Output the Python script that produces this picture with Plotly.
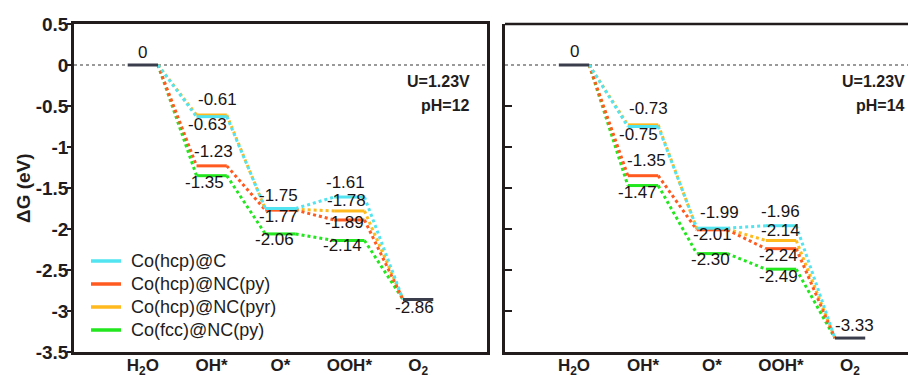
import plotly.graph_objects as go

# ---------------- data ----------------
stages = ["H<sub>2</sub>O", "OH*", "O*", "OOH*", "O<sub>2</sub>"]
series_names = ["Co(hcp)@C", "Co(hcp)@NC(py)", "Co(hcp)@NC(pyr)", "Co(fcc)@NC(py)"]
series_colors = ["#52E4F0", "#FF5A1F", "#FFBA1E", "#22E61E"]

# pH = 12
g_hcpC_12 = [0, -0.63, -1.75, -1.61, -2.86]
g_hcpNCpy_12 = [0, -1.23, -1.77, -1.89, -2.86]
g_hcpNCpyr_12 = [0, -0.61, -1.76, -1.78, -2.86]
g_fccNCpy_12 = [0, -1.35, -2.06, -2.14, -2.86]

# pH = 14
g_hcpC_14 = [0, -0.75, -1.99, -1.96, -3.33]
g_hcpNCpy_14 = [0, -1.35, -2.01, -2.24, -3.33]
g_hcpNCpyr_14 = [0, -0.73, -2.00, -2.14, -3.33]
g_fccNCpy_14 = [0, -1.47, -2.30, -2.49, -3.33]

# value labels (stage index, value)
labels_12 = [(0, 0.0), (1, -0.61), (1, -0.63), (1, -1.23), (1, -1.35),
             (2, -1.75), (2, -1.77), (2, -2.06),
             (3, -1.61), (3, -1.78), (3, -1.89), (3, -2.14), (4, -2.86)]
labels_14 = [(0, 0.0), (1, -0.73), (1, -0.75), (1, -1.35), (1, -1.47),
             (2, -1.99), (2, -2.01), (2, -2.30),
             (3, -1.96), (3, -2.14), (3, -2.24), (3, -2.49), (4, -3.33)]

y_tickvals = [0.5, 0, -0.5, -1, -1.5, -2, -2.5, -3, -3.5]
y_ticktext = ["0.5", "0", "-0.5", "-1", "-1.5", "-2", "-2.5", "-3", "-3.5"]

y_title = "ΔG (eV)"
panel_texts = [["U=1.23V", "pH=12"], ["U=1.23V", "pH=14"]]

# ---------------- style / placement ----------------
FONT = "Liberation Sans, Arial, sans-serif"
DARK = "#231c1c"
LEVEL_DARK = "#3a3d4c"
HW = 0.22  # half width of an energy level (data units)
PLOT_L, PLOT_T, PLOT_B = 74, 24, 352  # plot area edges in px
PLOT_H = PLOT_B - PLOT_T

# pixel shifts for each value label (dx, dy)
shifts_12 = [(0, 13), (6, 16), (-4, -8), (2, 14), (-7, -7), (-2, 13), (-2, -6),
             (-6, -6), (-4, 15), (-3, 10), (-5, -3), (-7, -5), (-4, -8)]
shifts_14 = [(0, 14), (5, 16), (-5, -8), (3, 15), (-6, -7), (7, 16), (0, -5),
             (-2, -6), (-1, 14), (-1, 10), (-3, -7), (-3, -7), (4, 13)]

# legend box placement (px)
LEG_LINE_X0, LEG_LINE_X1, LEG_TEXT_X = 91, 121, 129
LEG_ROW0_Y, LEG_ROW_DY = 261, 23

panels = [
    dict(series=[g_hcpC_12, g_hcpNCpy_12, g_hcpNCpyr_12, g_fccNCpy_12],
         labels=labels_12, shifts=shifts_12, xa="x", ya="y"),
    dict(series=[g_hcpC_14, g_hcpNCpy_14, g_hcpNCpyr_14, g_fccNCpy_14],
         labels=labels_14, shifts=shifts_14, xa="x2", ya="y2"),
]

fig = go.Figure()
xpos = list(range(1, len(stages) + 1))

for pi, p in enumerate(panels):
    order = [3, 2, 1, 0]
    for si in order:
        vals = p["series"][si]
        cx, cy = [], []
        for k in range(len(vals) - 1):
            cx += [xpos[k] + HW, xpos[k + 1] - HW, None]
            cy += [vals[k], vals[k + 1], None]
        fig.add_trace(go.Scatter(
            x=cx, y=cy, mode="lines", xaxis=p["xa"], yaxis=p["ya"],
            line=dict(color=series_colors[si], width=3, dash="dot"),
            showlegend=False, hoverinfo="skip"))
    for si in order:
        vals = p["series"][si]
        lx, ly = [], []
        for k in range(1, len(vals) - 1):
            lx += [xpos[k] - HW, xpos[k] + HW, None]
            ly += [vals[k], vals[k], None]
        fig.add_trace(go.Scatter(
            x=lx, y=ly, mode="lines", xaxis=p["xa"], yaxis=p["ya"],
            name=series_names[si],
            line=dict(color=series_colors[si], width=3),
            showlegend=False, hoverinfo="skip"))
    first = p["series"][0][0]
    last = p["series"][0][-1]
    fig.add_trace(go.Scatter(
        x=[xpos[0] - HW, xpos[0] + HW, None, xpos[-1] - HW, xpos[-1] + HW],
        y=[first, first, None, last, last], mode="lines",
        xaxis=p["xa"], yaxis=p["ya"], line=dict(color=LEVEL_DARK, width=3),
        showlegend=False, hoverinfo="skip"))

    for (k, v), (dx, dy) in zip(p["labels"], p["shifts"]):
        txt = "0" if v == 0 else f"{v:.2f}"
        fig.add_annotation(x=xpos[k], y=v, xref=p["xa"], yref=p["ya"], text=txt,
                           showarrow=False, xshift=dx, yshift=dy,
                           xanchor="center", yanchor="middle",
                           font=dict(family=FONT, size=17, color="#1a1414"))

    fig.add_shape(type="line", xref=f"{p['xa']} domain", yref=p["ya"],
                  x0=0, x1=1, y0=0, y1=0,
                  line=dict(color="#9a9a9a", width=2, dash="dot"), layer="below")

    xs = -15 if pi == 0 else -1
    for li, t in enumerate(panel_texts[pi]):
        fig.add_annotation(x=1, y=0, xref=f"{p['xa']} domain", yref=p["ya"], text=f"<b>{t}</b>",
                           showarrow=False, xanchor="right", yanchor="middle",
                           xshift=xs, yshift=-16 - 24 * li,
                           font=dict(family=FONT, size=16, color=DARK))

# legend (keys + names) in the left panel
for i, (name, col) in enumerate(zip(series_names, series_colors)):
    ypx = LEG_ROW0_Y + LEG_ROW_DY * i
    yp = (PLOT_B - ypx) / PLOT_H
    fig.add_shape(type="line", xref="paper", yref="paper", xsizemode="pixel", xanchor=0,
                  x0=LEG_LINE_X0 - PLOT_L, x1=LEG_LINE_X1 - PLOT_L, y0=yp, y1=yp,
                  line=dict(color=col, width=3.5))
    fig.add_annotation(x=0, y=yp, xref="paper", yref="paper", xshift=LEG_TEXT_X - PLOT_L,
                       text=name, showarrow=False, xanchor="left", yanchor="middle",
                       font=dict(family=FONT, size=18, color=DARK))

# top border of the right panel (its right edge is cut by the picture)
fig.add_shape(type="line", xref="x2 domain", yref="y2 domain", x0=0, x1=1, y0=1, y1=1,
              line=dict(color=DARK, width=2.5))

fig.add_annotation(x=0, y=0.5, xref="paper", yref="paper", xshift=-51,
                   text=f"<b>{y_title}</b>", textangle=-90, showarrow=False,
                   xanchor="center", yanchor="middle",
                   font=dict(family=FONT, size=19, color=DARK))

axis_common = dict(showline=True, linecolor=DARK, linewidth=2.5, showgrid=False,
                   zeroline=False, automargin=False)

fig.update_layout(
    template="none",
    width=908, height=375,
    margin=dict(l=PLOT_L, r=0, t=PLOT_T, b=375 - PLOT_B, autoexpand=False),
    plot_bgcolor="white", paper_bgcolor="white",
    font=dict(family=FONT, color=DARK),
    showlegend=False,
    xaxis=dict(domain=[0, 0.4952], range=[0, 6], mirror=True,
               tickvals=xpos, ticktext=[f"<b>{s}</b>" for s in stages], ticks="",
               ticklabelstandoff=-4,
               tickfont=dict(size=17, family=FONT, color=DARK), **axis_common),
    yaxis=dict(range=[-3.5, 0.5], mirror=True, tickvals=y_tickvals,
               ticktext=[f"<b>{t}</b>" for t in y_ticktext], ticks="outside", ticklen=4,
               tickwidth=2, tickcolor=DARK, ticklabelstandoff=-5,
               tickfont=dict(size=19, family=FONT, color=DARK),
               **axis_common),
    xaxis2=dict(domain=[0.5168, 1], range=[0, 5.84], mirror=False, anchor="y2",
                tickvals=xpos, ticktext=[f"<b>{s}</b>" for s in stages], ticks="",
                ticklabelstandoff=-4,
                tickfont=dict(size=17, family=FONT, color=DARK), **axis_common),
    yaxis2=dict(range=[-3.5, 0.5], anchor="x2", mirror=False,
                tickvals=[-0.5, -1, -1.5, -2, -2.5, -3], showticklabels=False,
                ticks="inside", ticklen=7, tickwidth=2, tickcolor=DARK, **axis_common),
)

fig.write_html("out.html", config={"displayModeBar": False},
               post_script="document.body.style.margin='0';document.body.style.padding='0';")
